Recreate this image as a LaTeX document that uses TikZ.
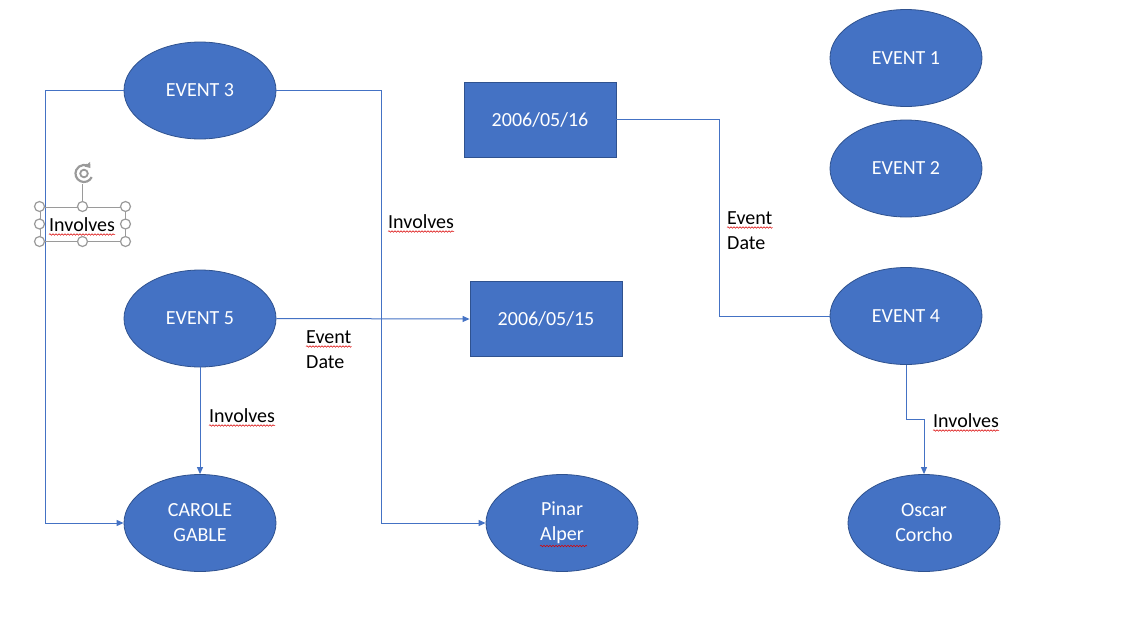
\documentclass[tikz,border=0pt]{standalone}
\usepackage{fontspec}
\setmainfont{Carlito}
\usetikzlibrary{arrows.meta,decorations.pathmorphing,shapes.geometric}
\definecolor{fillblue}{HTML}{4472C4}
\definecolor{edgeblue}{HTML}{2F528F}
\definecolor{handlegray}{HTML}{9A9A9A}
\begin{document}
\begin{tikzpicture}[x=1pt,y=-1pt,
 every node/.style={font=\fontsize{20}{25}\selectfont},
 ev/.style={ellipse, draw=edgeblue, fill=fillblue, line width=0.8pt, minimum width=152pt, minimum height=97pt, inner sep=0pt, text=white, align=center},
 dt/.style={rectangle, draw=edgeblue, fill=fillblue, line width=0.8pt, minimum width=152pt, minimum height=75pt, inner sep=0pt, text=white},
 conn/.style={draw=fillblue, line width=1pt},
 arr/.style={conn, -{Triangle[length=7pt,width=6pt]}},
 lbl/.style={anchor=base west, inner sep=0pt, text=black},
 squig/.style={draw=red!85!black, line width=0.5pt, decorate, decoration={snake, amplitude=0.8pt, segment length=3pt}},
 handle/.style={circle, draw=handlegray, fill=white, line width=1.2pt, minimum size=10pt, inner sep=0pt},
 selbox/.style={rectangle, draw=handlegray, line width=1pt, minimum width=85pt, minimum height=34pt, inner sep=0pt}
]
\useasboundingbox (0,0) rectangle (1136,632);

% shapes
\node[ev] (e3) at (200,90.5) {EVENT 3};
\node[ev] (e5) at (200,318.5) {EVENT 5};
\node[ev] (carole) at (200,523) {CAROLE\\GABLE};
\node[ev] (pinar) at (562,523) {Pinar\\Alper};
\node[ev] (oscar) at (924,523) {Oscar\\Corcho};
\node[ev] (e1) at (906,58) {EVENT 1};
\node[ev] (e2) at (906,168.5) {EVENT 2};
\node[ev] (e4) at (906,316) {EVENT 4};
\node[dt] (r16) at (540,119.5) {2006/05/16};
\node[dt] (r15) at (546,319) {2006/05/15};

% connectors
\draw[arr] (e3.west) -- ++(-78,0) |- (carole.west);
\draw[arr] (e3.east) -- ++(105,0) |- (pinar.west);
\draw[arr] (e5.east) -- (r15.west);
\draw[arr] (e5.south) -- (carole.north);
\draw[conn] (r16.east) -- ++(103,0) |- (e4.west);
\draw[arr] (e4.south) -- ++(0,55) -| (oscar.north);

% selected text box
\node[selbox] (sel) at (82.5,224) {};
\draw[handlegray, line width=1pt] (sel.north) -- ++(0,-23) coordinate (rotbase);
\coordinate (rot) at (84,173.5);
\draw[handlegray, line width=2.2pt, -{Triangle[length=5pt,width=7pt]}] ([shift={(25:8.5)}]rot) arc[start angle=25, end angle=320, radius=8.5];
\draw[handlegray, line width=1.8pt] (rot) circle[radius=3.8];
\foreach \a in {north west,north,north east,west,east,south west,south,south east}
  \node[handle] at (sel.\a) {};

% labels
\node[lbl] (i1) at (49,231) {Involves};
\node[lbl] (i2) at (388,228) {Involves};
\node[lbl] (i3) at (209,422) {Involves};
\node[lbl] (i4) at (933,427) {Involves};
\node[lbl] (ev1) at (306,343) {Event};
\node[lbl] (dt1) at (306,368) {Date};
\node[lbl] (ev2) at (727,224) {Event};
\node[lbl] (dt2) at (727,249) {Date};

% spell-check squiggles
\foreach \n in {i1,i2,i3,i4,ev1,ev2}
  \draw[squig] ([yshift=-3.5pt]\n.base west) -- ([yshift=-3.5pt]\n.base east);
\draw[squig] ([shift={(-22,23)}]pinar.center) -- ([shift={(25,23)}]pinar.center);
\end{tikzpicture}
\end{document}
